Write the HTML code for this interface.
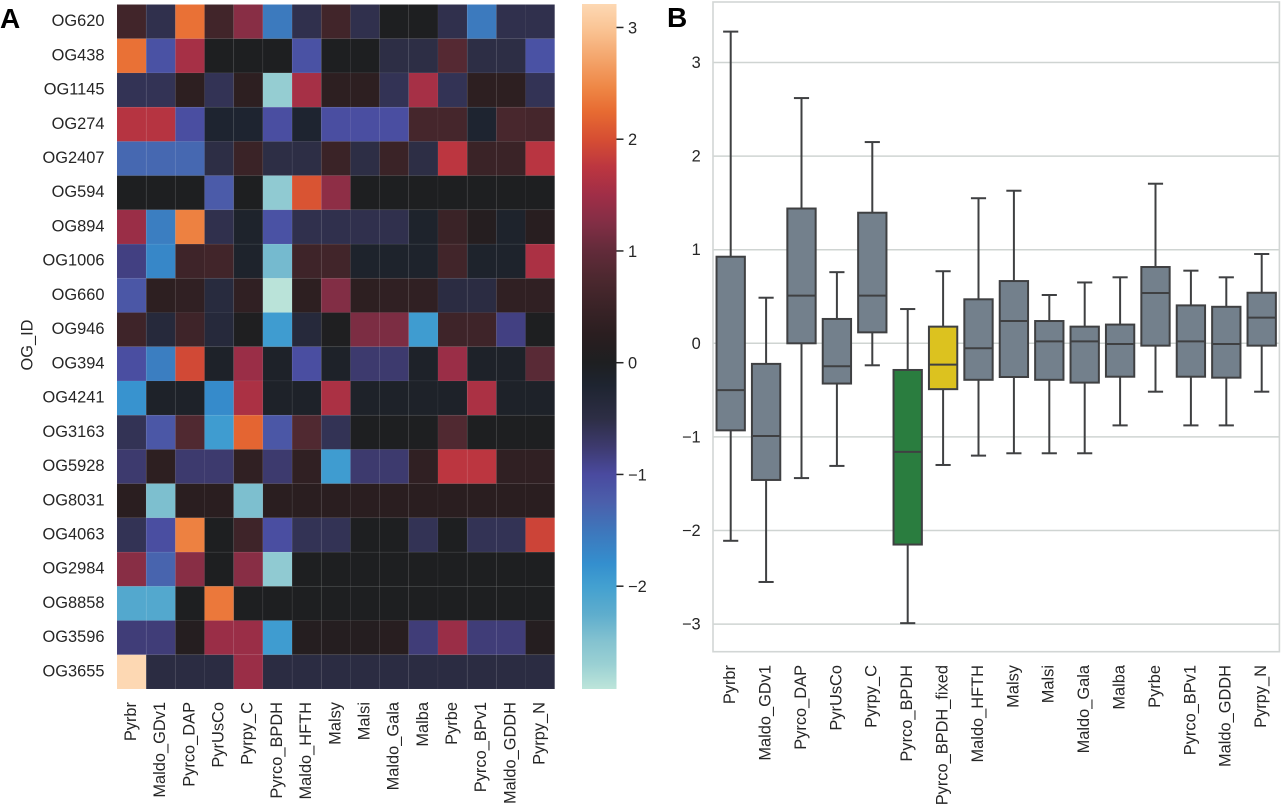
<!DOCTYPE html>
<html lang="en">
<head>
<meta charset="utf-8">
<title>Ortholog group heatmap and boxplot</title>
<style>
html,body{margin:0;padding:0;background:#fff;}
svg{display:block;font-family:"Liberation Sans",Arial,sans-serif;filter:blur(0.35px);}
</style>
</head>
<body>
<svg id="figure" width="1281" height="808" viewBox="0 0 1281 808" xmlns="http://www.w3.org/2000/svg">
  <defs>
    <linearGradient id="cbar-gradient" x1="0" y1="0" x2="0" y2="1"></linearGradient>
  </defs>
  <rect x="0" y="0" width="1281" height="808" fill="#ffffff"/>
  <g id="panel-a"></g>
  <g id="panel-b"></g>
  <text x="0" y="28" font-size="28" font-weight="700" fill="#000">A</text>
  <text x="667" y="27" font-size="28" font-weight="700" fill="#000">B</text>
  <text transform="translate(32.5,345) rotate(-90)" text-anchor="middle" font-size="16.4" fill="#262626">OG_ID</text>
</svg>
<script>
// ---------- Data ----------
const heatmapColumns = ["Pyrbr","Maldo_GDv1","Pyrco_DAP","PyrUsCo","Pyrpy_C","Pyrco_BPDH","Maldo_HFTH","Malsy","Malsi","Maldo_Gala","Malba","Pyrbe","Pyrco_BPv1","Maldo_GDDH","Pyrpy_N"];
const heatmapRows = ["OG620","OG438","OG1145","OG274","OG2407","OG594","OG894","OG1006","OG660","OG946","OG394","OG4241","OG3163","OG5928","OG8031","OG4063","OG2984","OG8858","OG3596","OG3655"];
const heatmapValues = [
  [0.6,-0.55,2.3,0.6,1.3,-1.55,-0.55,0.6,-0.55,0,0,-0.55,-1.55,-0.55,-0.55],
  [2.3,-1.1,1.55,0,0,0,-1.1,0,0,-0.5,-0.5,0.85,-0.5,-0.5,-1.1],
  [-0.6,-0.6,0.3,-0.6,0.3,-2.65,1.55,0.3,0.3,-0.6,1.55,-0.6,0.3,0.3,-0.6],
  [1.7,1.7,-1.05,-0.2,-0.2,-1.05,-0.2,-1.05,-1.05,-1.05,0.65,0.65,-0.2,0.7,0.65],
  [-1.35,-1.35,-1.35,-0.5,0.5,-0.5,-0.5,0.5,-0.5,0.5,-0.5,1.75,0.5,0.5,1.72],
  [0,0,0,-1.2,0,-2.6,2.05,1.35,0,0,0,0,0,0,0],
  [1.45,-1.6,2.42,-0.55,-0.15,-1.1,-0.55,-0.55,-0.55,-0.55,-0.15,0.5,0.15,-0.15,0.2],
  [-0.85,-1.7,0.55,0.6,-0.15,-2.4,0.55,0.6,-0.15,-0.15,-0.15,0.6,-0.15,-0.15,1.6],
  [-1.15,0.3,0.35,-0.4,0.35,-2.9,0.3,1.25,0.3,0.35,0.35,-0.45,-0.45,0.35,0.35],
  [0.55,-0.35,0.55,-0.35,0.03,-1.95,-0.35,0.02,1.2,1.2,-1.95,0.55,0.55,-0.85,0],
  [-1.05,-1.6,1.95,-0.1,1.45,-0.1,-1.05,-0.1,-0.75,-0.75,-0.1,1.45,-0.1,-0.1,0.9],
  [-1.85,-0.1,-0.1,-1.75,1.6,-0.1,-0.1,1.6,-0.1,-0.1,-0.1,-0.1,1.6,-0.1,-0.1],
  [-0.6,-1.15,0.8,-1.95,2.2,-1.15,0.8,-0.6,0,0,0,0.8,0,0,0],
  [-0.75,0.3,-0.75,-0.75,0.35,-0.75,0.35,-1.95,-0.75,-0.75,0.35,1.75,1.75,0.35,0.35],
  [0.25,-2.45,0.25,0.25,-2.45,0.25,0.25,0.25,0.25,0.25,0.25,0.25,0.25,0.25,0.25],
  [-0.6,-1.05,2.42,0,0.55,-1.05,-0.6,-0.6,0,0,-0.6,0,-0.6,-0.6,1.9],
  [1.3,-1.3,1.3,0,1.3,-2.6,0,0,0,0,0,0,0,0,0],
  [-2.15,-2.15,0,2.35,0,0,0,0,0,0,0,0,0,0,0],
  [-0.8,-0.8,0.15,1.45,1.45,-1.95,0.15,0.15,0.15,0.2,-0.8,1.45,-0.8,-0.8,0.15],
  [3.21,-0.45,-0.45,-0.45,1.45,-0.45,-0.45,-0.45,-0.45,-0.45,-0.45,-0.45,-0.45,-0.45,-0.45]
];
const colorbarTicks = [3,2,1,0,-1,-2];

const boxCategories = ["Pyrbr","Maldo_GDv1","Pyrco_DAP","PyrUsCo","Pyrpy_C","Pyrco_BPDH","Pyrco_BPDH_fixed","Maldo_HFTH","Malsy","Malsi","Maldo_Gala","Malba","Pyrbe","Pyrco_BPv1","Maldo_GDDH","Pyrpy_N"];
const boxWhiskerHigh = [3.33,0.487,2.62,0.76,2.15,0.366,0.77,1.55,1.63,0.516,0.65,0.705,1.705,0.776,0.705,0.954];
const boxQ3 = [0.925,-0.22,1.44,0.26,1.395,-0.285,0.178,0.47,0.665,0.238,0.178,0.2,0.815,0.405,0.39,0.54];
const boxMedian = [-0.5,-0.99,0.51,-0.245,0.51,-1.16,-0.228,-0.053,0.238,0.02,0.02,-0.007,0.537,0.02,-0.007,0.274];
const boxQ1 = [-0.93,-1.46,0,-0.43,0.117,-2.15,-0.49,-0.39,-0.36,-0.39,-0.42,-0.357,-0.025,-0.357,-0.367,-0.025];
const boxWhiskerLow = [-2.11,-2.55,-1.44,-1.31,-0.235,-2.99,-1.3,-1.2,-1.175,-1.175,-1.175,-0.877,-0.517,-0.877,-0.877,-0.517];
const boxHighlights = {"Pyrco_BPDH":"#2a7d3f","Pyrco_BPDH_fixed":"#dcc21f"};
const boxYTicks = [3,2,1,0,-1,-2,-3];

// ---------- Colour map (ice-fire, as seen in the colour bar) ----------
const cmapValues = [-2.92,-2.7,-2.5,-2.25,-2,-1.8,-1.5,-1.25,-1,-0.75,-0.5,-0.2,0,0.25,0.5,0.75,1,1.25,1.5,1.75,2,2.25,2.45,2.7,3,3.21];
const cmapColors = ["#bde5da","#9ad0d3","#85c3d0","#5eadcd","#43a0d0","#348fce","#3e76bb","#4b5fab","#4a4a9f","#3d3a6e","#2d2e45","#1e2430","#1e1f21","#2a1e20","#3a2327","#4c282f","#622b3a","#822e45","#a02e47","#bc3640","#d64e33","#e76b32","#ee8544","#f3a268","#fac596","#fdd8b3"];

function hexToRgb(h){return [1,3,5].map(i=>parseInt(h.substr(i,2),16));}
function colorFor(v){
  if(v<=cmapValues[0]) return cmapColors[0];
  for(let i=1;i<cmapValues.length;i++){
    if(v<=cmapValues[i]){
      const t=(v-cmapValues[i-1])/(cmapValues[i]-cmapValues[i-1]);
      const a=hexToRgb(cmapColors[i-1]),b=hexToRgb(cmapColors[i]);
      return "rgb("+a.map((c,k)=>Math.round(c+(b[k]-c)*t)).join(",")+")";
    }
  }
  return cmapColors[cmapColors.length-1];
}

// ---------- Helpers ----------
const NS="http://www.w3.org/2000/svg";
function make(parent,tag,props,text){
  const n=document.createElementNS(NS,tag);
  for(const k in props) n.setAttribute(k,props[k]);
  if(text!==undefined) n.textContent=text;
  parent.appendChild(n);
  return n;
}
function slug(s){return String(s).toLowerCase().replace(/[^a-z0-9]+/g,'-').replace(/^-|-$/g,'');}
function fmt(v){return v<0?"\u2212"+Math.abs(v):String(v);}
const TEXT="#262626", FS=16.4;

// ---------- Heatmap (panel A) ----------
const heatLeft=117, heatRight=554.7, heatTop=4.5, heatBottom=689;
const heatX=i=>heatLeft+(heatRight-heatLeft)*i/heatmapColumns.length;
const heatY=j=>heatTop+(heatBottom-heatTop)*j/heatmapRows.length;
const panelA=document.getElementById('panel-a');

const cells=make(panelA,'g',{});


heatmapValues.forEach((row,j)=>{
  row.forEach((v,i)=>{
    const c=make(cells,'rect',{x:heatX(i),y:heatY(j),width:heatX(i+1)-heatX(i),height:heatY(j+1)-heatY(j),fill:colorFor(v),stroke:'#ffffff','stroke-opacity':0.03,'stroke-width':1});
    
    
  });
});
heatmapRows.forEach((r,j)=>{
  const t=make(panelA,'text',{x:104.5,y:(heatY(j)+heatY(j+1))/2+4.5,'text-anchor':'end','font-size':FS,fill:TEXT},r);
  
  
});
heatmapColumns.forEach((col,i)=>{
  const cx=(heatX(i)+heatX(i+1))/2+4.4;
  const t=make(panelA,'text',{transform:'translate('+cx+',702) rotate(-90)','text-anchor':'end','font-size':FS,fill:TEXT},col);
  
  
});

// Colour bar
const cbarLeft=582, cbarRight=616.5, cbarTop=4, cbarBottom=689;
const cbarVmax=3.21, cbarVmin=-2.92;
const cbarY=v=>cbarTop+(cbarBottom-cbarTop)*(cbarVmax-v)/(cbarVmax-cbarVmin);
const grad=document.getElementById('cbar-gradient');
for(let i=cmapValues.length-1;i>=0;i--){
  make(grad,'stop',{offset:((cbarVmax-cmapValues[i])/(cbarVmax-cbarVmin)),'stop-color':cmapColors[i]});
}
const cbar=make(panelA,'rect',{x:cbarLeft,y:cbarTop,width:cbarRight-cbarLeft,height:cbarBottom-cbarTop,fill:'url(#cbar-gradient)'});


colorbarTicks.forEach(v=>{
  const y=cbarY(v);
  const m=make(panelA,'line',{x1:cbarRight,x2:cbarRight+7,y1:y,y2:y,stroke:TEXT,'stroke-width':1.5});
  
  
  const t=make(panelA,'text',{x:628,y:y+5.9,'font-size':FS,fill:TEXT},fmt(v));
  
  
});

// ---------- Box plot (panel B) ----------
const plotLeft=713, plotRight=1279.4, plotTop=2, plotBottom=651.7;
const boxStep=(plotRight-plotLeft)/boxCategories.length;
const boxX=i=>plotLeft+boxStep*(i+0.5);
const boxY=v=>343.3-93.6*v;
const panelB=document.getElementById('panel-b');

boxYTicks.forEach(v=>{
  const y=boxY(v);
  const g=make(panelB,'line',{x1:plotLeft,x2:plotRight,y1:y,y2:y,stroke:'#cfd4d2','stroke-width':1.5});
  
  
  const t=make(panelB,'text',{x:700.7,y:y+5.5,'text-anchor':'end','font-size':FS,fill:TEXT},fmt(v));
  
  
});
const frame=make(panelB,'rect',{x:plotLeft,y:plotTop,width:plotRight-plotLeft,height:plotBottom-plotTop,fill:'none',stroke:'#d2d6d5','stroke-width':1.6});



const EDGE='#3f4042', BOXW=boxStep*0.8, CAP=boxStep*0.4;
boxCategories.forEach((cat,i)=>{
  const g=make(panelB,'g',{stroke:EDGE,'stroke-width':2});
  
  
  const x=boxX(i);
  const w1=make(g,'line',{x1:x,x2:x,y1:boxY(boxWhiskerHigh[i]),y2:boxY(boxQ3[i])});
  
  
  const w2=make(g,'line',{x1:x,x2:x,y1:boxY(boxQ1[i]),y2:boxY(boxWhiskerLow[i])});
  
  
  const c1=make(g,'line',{x1:x-CAP/2-0.5,x2:x+CAP/2+0.5,y1:boxY(boxWhiskerHigh[i]),y2:boxY(boxWhiskerHigh[i])});
  
  
  const c2=make(g,'line',{x1:x-CAP/2-0.5,x2:x+CAP/2+0.5,y1:boxY(boxWhiskerLow[i]),y2:boxY(boxWhiskerLow[i])});
  
  
  const b=make(g,'rect',{x:x-BOXW/2,y:boxY(boxQ3[i]),width:BOXW,height:boxY(boxQ1[i])-boxY(boxQ3[i]),fill:boxHighlights[cat]||'#73808c'});
  
  
  const m=make(g,'line',{x1:x-BOXW/2,x2:x+BOXW/2,y1:boxY(boxMedian[i]),y2:boxY(boxMedian[i])});
  
  
  const t=make(panelB,'text',{transform:'translate('+(x+4.4)+',665) rotate(-90)','text-anchor':'end','font-size':FS,fill:TEXT},cat);
  
  
});
</script>
</body>
</html>
